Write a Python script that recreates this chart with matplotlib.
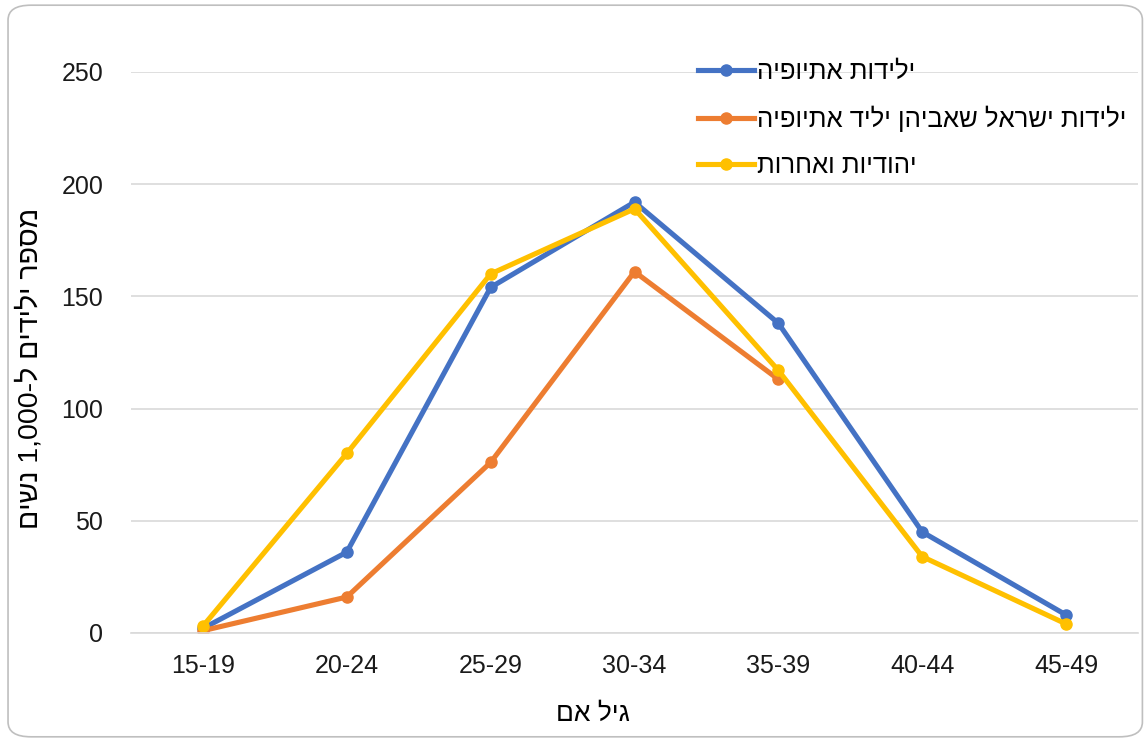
import numpy as np
import matplotlib.pyplot as plt
from matplotlib.patches import FancyBboxPatch

# גילאים ונתונים
ages = ['15-19', '20-24', '25-29', '30-34', '35-39', '40-44', '45-49']
ethiopia = [2, 36, 154, 192, 138, 45, 8]
israel_eth_father = [1, 16, 76, 161, 113, np.nan, np.nan]
jewish_other = [3, 80, 160, 189, 117, 34, 4]

names = ['ילידות אתיופיה', 'ילידות ישראל שאביהן יליד אתיופיה', 'יהודיות ואחרות']
colors = ['#4472C4', '#ED7D31', '#FFC000']


def rtl(s):
    # matplotlib has no bidi, reverse hebrew for display
    return s[::-1]


plt.rcParams['font.family'] = ['Liberation Sans', 'DejaVu Sans']

fig = plt.figure(figsize=(11.47, 7.42), dpi=100)
ax = fig.add_axes([0.1142, 0.147, 0.878, 0.756])

x = np.arange(len(ages))
for vals, name, c in zip([ethiopia, israel_eth_father, jewish_other], names, colors):
    ax.plot(x, vals, color=c, linewidth=3.7, marker='o', markersize=8, label=rtl(name))

ax.set_xlim(-0.5, len(ages) - 0.5)
ax.set_ylim(0, 250)
ax.set_yticks([0, 50, 100, 150, 200, 250])
ax.set_xticks(x)
ax.set_xticklabels(ages)
ax.tick_params(axis='both', length=0, labelsize=18, colors='#1a1a1a')
ax.tick_params(axis='x', pad=15)
ax.tick_params(axis='y', pad=20)
ax.grid(axis='y', color='#D9D9D9', linewidth=1.2)
ax.set_axisbelow(True)
for s in ['top', 'right', 'left']:
    ax.spines[s].set_visible(False)
ax.spines['bottom'].set_color('#D9D9D9')
ax.spines['bottom'].set_linewidth(1.2)

ylab = rtl('נשים') + ' 1,000' + rtl('ל-') + ' ' + rtl('מספר ילידים')
ax.set_ylabel(ylab, fontsize=20.5)
ax.yaxis.set_label_coords(-0.087, 0.472)
ax.set_xlabel(rtl('גיל אם'), fontsize=19)
ax.xaxis.set_label_coords(0.459, -0.122)

ax.legend(loc='upper left', bbox_to_anchor=(0.563, 1.022), frameon=False,
          fontsize=18.5, handlelength=2.2, handletextpad=0.1, labelspacing=0.85,
          borderpad=0, borderaxespad=0)

border = FancyBboxPatch((0.007, 0.007), 0.989, 0.986, boxstyle='round,pad=0,rounding_size=0.02',
                        transform=fig.transFigure, facecolor='none', edgecolor='#BFBFBF', linewidth=1.2)
fig.patches.append(border)

fig.savefig('out.png', dpi=100)
